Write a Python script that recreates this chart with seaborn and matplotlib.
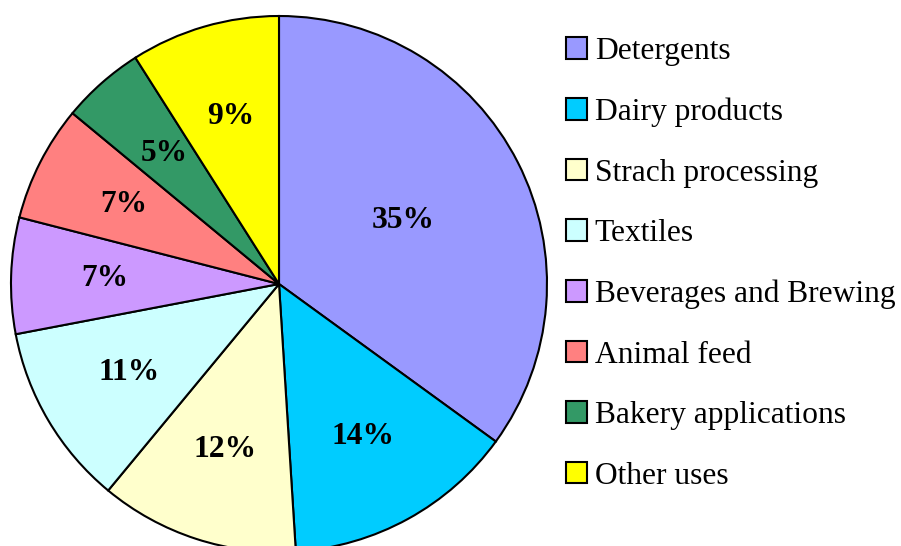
import numpy as np
import seaborn as sns
import matplotlib.pyplot as plt

sns.set_theme(style='white')
plt.rcParams['font.family'] = ['Liberation Serif', 'DejaVu Serif']
plt.rcParams['text.color'] = 'black'

labels = ['Detergents', 'Dairy products', 'Strach processing', 'Textiles',
          'Beverages and Brewing', 'Animal feed', 'Bakery applications', 'Other uses']
shares = [35, 14, 12, 11, 7, 7, 5, 9]
colors = sns.color_palette(['#9999FF', '#00CCFF', '#FFFFCC', '#CCFFFF',
                            '#CC99FF', '#FF8080', '#339966', '#FFFF00'])

fig = plt.figure(figsize=(9.01, 5.46), dpi=100)
# pie centre ~ (279, 284) px, radius ~268 px
ax = fig.add_axes([11/901, -6/546, 536/901, 536/546])
wedges, texts, autotexts = ax.pie(
    shares, colors=colors, startangle=90, counterclock=False,
    autopct='%d%%', pctdistance=0.65,
    wedgeprops=dict(edgecolor='black', linewidth=1.5),
    textprops=dict(fontsize=22.7, fontweight='bold', color='black'))
for w in wedges:
    w.set_clip_on(False)
# biggest slice label sits closer to the centre
x, y = autotexts[0].get_position()
autotexts[0].set_position((x*0.52/0.65, y*0.52/0.65))
ax.set_xlim(-1, 1)
ax.set_ylim(-1, 1)
ax.axis('off')

leg = fig.legend(wedges, labels, loc='upper left', bbox_to_anchor=(566/901, 1 - 37/546),
                 frameon=False, fontsize=22.7, handlelength=0.66, handleheight=0.66,
                 handletextpad=0.25, labelspacing=1.0, borderpad=0, borderaxespad=0)
for t in leg.get_texts():
    t.set_color('black')

fig.savefig('out.png', dpi=100)
